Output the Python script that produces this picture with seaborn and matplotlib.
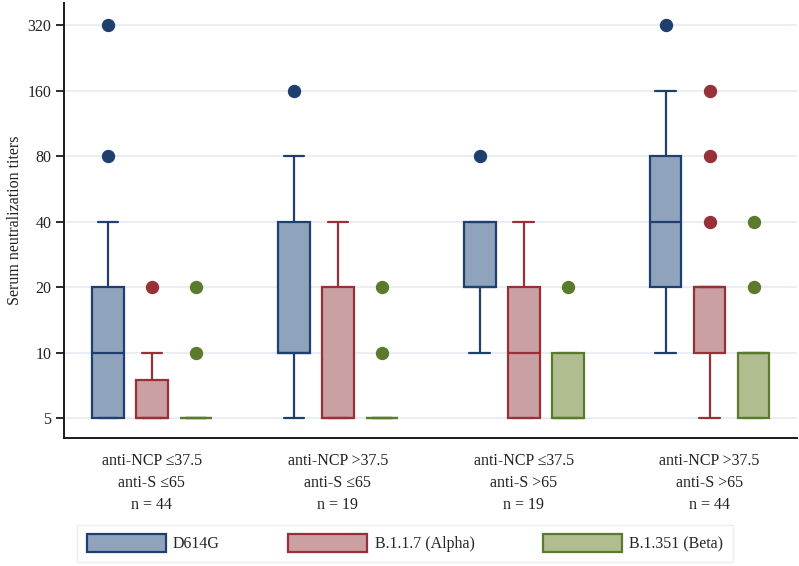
import numpy as np
import pandas as pd
import seaborn as sns
import matplotlib
matplotlib.use("Agg")
import matplotlib.pyplot as plt
from matplotlib.patches import Patch
from matplotlib.ticker import FixedLocator, FixedFormatter, NullLocator

# ---------------- data (titers) ----------------
groups = [
    "anti-NCP \u226437.5\nanti-S \u226465\nn = 44",
    "anti-NCP >37.5\nanti-S \u226465\nn = 19",
    "anti-NCP \u226437.5\nanti-S >65\nn = 19",
    "anti-NCP >37.5\nanti-S >65\nn = 44",
]
variants = ["D614G", "B.1.1.7 (Alpha)", "B.1.351 (Beta)"]

d614g_titers = [
    [5, 5, 5, 5, 10, 10, 10, 20, 20, 20, 40, 80, 320],
    [5, 10, 10, 10, 10, 20, 40, 80, 160],
    [10, 20, 20, 20, 20, 40, 40, 40, 80],
    [10, 20, 20, 40, 40, 80, 80, 160, 320],
]
alpha_titers = [
    [5, 5, 5, 5, 5, 10, 20],
    [5, 5, 5, 5, 5, 10, 20, 20, 40],
    [5, 5, 5, 10, 10, 20, 20, 40, 40],
    [5, 10, 10, 10, 20, 20, 20, 20, 20, 20, 40, 80, 160],
]
beta_titers = [
    [5, 5, 5, 5, 5, 5, 5, 10, 20],
    [5, 5, 5, 5, 5, 5, 5, 10, 20],
    [5, 5, 5, 5, 5, 10, 10, 10, 20],
    [5, 5, 5, 10, 10, 10, 10, 20, 40],
]

y_ticks = [5, 10, 20, 40, 80, 160, 320]

fill_colors = ["#8fa3bd", "#caa0a2", "#afbd90"]
edge_colors = ["#1f3f6e", "#983038", "#5a7a2c"]

# ---------------- table ----------------
rows = []
for variant, per_group in zip(variants, [d614g_titers, alpha_titers, beta_titers]):
    for group, vals in zip(groups, per_group):
        for v in vals:
            rows.append((group, variant, v))
df = pd.DataFrame(rows, columns=["group", "variant", "titer"])

# ---------------- style ----------------
sns.set_theme(style="white")
plt.rcParams["font.family"] = ["Liberation Serif", "DejaVu Serif"]

fig = plt.figure(figsize=(7.99, 5.66), dpi=100)
ax = fig.add_axes([0.0801, 0.2261, 0.918, 0.7686])

sns.boxplot(
    data=df, x="group", y="titer", hue="variant",
    order=groups, hue_order=variants,
    palette=fill_colors, saturation=1,
    width=0.71, gap=0.28, whis=1.5,
    linewidth=1.5, fliersize=8.6,
    flierprops=dict(marker="o"),
    capwidths=0.11,
    legend=False, ax=ax,
)

# per-variant outline colours
for cont, ec in zip(ax.containers, edge_colors):
    for b in cont.boxes:
        b.set_edgecolor(ec)
        b.set_linewidth(1.6)
    for ln in list(cont.medians) + list(cont.whiskers) + list(cont.caps):
        ln.set_color(ec)
        ln.set_linewidth(1.6)
    for f in cont.fliers:
        f.set_markerfacecolor(ec)
        f.set_markeredgecolor(ec)

# log2 axis after stats computed
ax.set_yscale("log", base=2)
ax.set_ylim(4.06, 404)
ax.set_xlim(-0.473, 3.473)
ax.yaxis.set_major_locator(FixedLocator(y_ticks))
ax.yaxis.set_major_formatter(FixedFormatter([str(t) for t in y_ticks]))
ax.yaxis.set_minor_locator(NullLocator())

ax.yaxis.grid(True, color="#eaeef3", linewidth=1.5)
ax.xaxis.grid(False)
ax.set_axisbelow(True)

for side in ["top", "right"]:
    ax.spines[side].set_visible(False)
for side in ["left", "bottom"]:
    ax.spines[side].set_color("#1a1a1a")
    ax.spines[side].set_linewidth(1.4)

ax.tick_params(axis="y", which="major", left=True, length=6, width=1.3,
               color="#1a1a1a", pad=3, labelsize=11.5, labelcolor="#222222")
ax.tick_params(axis="x", length=0, pad=11, labelsize=11.5, labelcolor="#222222")

ax.set_xlabel("")
ax.set_ylabel("Serum neutralization titers", fontsize=11.5, color="#222222", labelpad=3)

handles = [Patch(facecolor=fc, edgecolor=ec, linewidth=1.6, label=v)
           for fc, ec, v in zip(fill_colors, edge_colors, variants)]
leg = fig.legend(
    handles=handles, loc="lower left",
    bbox_to_anchor=(77 / 799, 4 / 566),
    ncol=3, frameon=True, fancybox=False,
    fontsize=11.5, handlelength=4.95, handleheight=1.3,
    handletextpad=0.45, borderpad=0.6, borderaxespad=0,
    columnspacing=4.3,
)
leg.get_frame().set_edgecolor("#e8ebef")
leg.get_frame().set_linewidth(1.0)
leg.get_frame().set_facecolor("white")

fig.canvas.draw()
for lab in ax.get_xticklabels():
    lab.set_linespacing(1.5)

fig.savefig("out.png", dpi=100)
